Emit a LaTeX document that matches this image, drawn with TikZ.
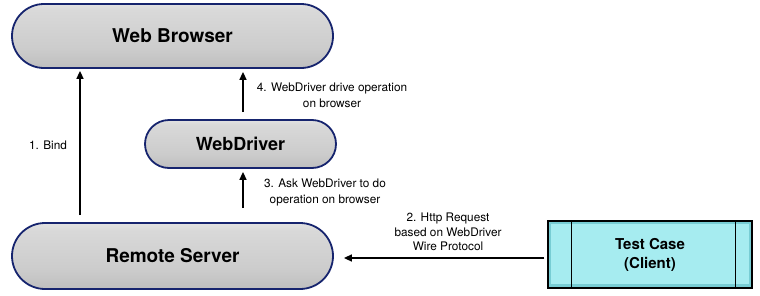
\documentclass[tikz,border=0pt]{standalone}
\usepackage{fontspec}
\setmainfont{TeX Gyre Heros}
\usetikzlibrary{arrows.meta,calc}
\definecolor{pillborder}{RGB}{22,36,110}
\definecolor{tccyan}{RGB}{166,236,240}
\definecolor{tcdark}{RGB}{120,205,212}
\pgfdeclareverticalshading{pillshade}{100bp}{color(0bp)=(black!45); color(12bp)=(black!30); color(40bp)=(black!20); color(70bp)=(black!15); color(86bp)=(black!3); color(94bp)=(black!8); color(100bp)=(black!35)}
\tikzset{
  pill/.style={rectangle, rounded corners=#1, shading=pillshade, draw=pillborder, line width=1.8pt, font=\bfseries},
  tcbox/.style={rectangle, fill=tcdark, draw=black, line width=1.5pt, align=center, font=\bfseries\fontsize{15}{19}\selectfont},
  arr/.style={-{Triangle[length=8pt,width=7pt]}, line width=1.6pt},
  lbl/.style={align=center, font=\fontsize{11.8}{16}\selectfont}
}
\begin{document}
\begin{tikzpicture}[x=1pt,y=-1pt]
\useasboundingbox (0,0) rectangle (760,295);
\node[pill=32pt, minimum width=321pt, minimum height=64pt, font=\bfseries\fontsize{19}{22}\selectfont] (wb) at (172.5,36) {Web Browser};
\node[pill=24pt, minimum width=191pt, minimum height=48pt, font=\bfseries\fontsize{18}{22}\selectfont] (wd) at (240.5,144) {WebDriver};
\node[pill=33pt, minimum width=321pt, minimum height=66pt, font=\bfseries\fontsize{19}{22}\selectfont] (rs) at (172.5,256) {Remote Server};
\node[tcbox, minimum width=204pt, minimum height=67pt] (tc) at (650,254.5) {};
\fill[tccyan] ([shift={(4pt,-4pt)}]tc.north west) rectangle ([shift={(-4pt,5pt)}]tc.south east);
\node[align=center, font=\bfseries\fontsize{15}{19}\selectfont] (tct) at (tc.center) {Test Case\\(Client)};
\draw[line width=1.2pt] ([xshift=24pt]tc.north west) -- ([xshift=24pt]tc.south west);
\draw[line width=1.2pt] ([xshift=-17pt]tc.north east) -- ([xshift=-17pt]tc.south east);
\coordinate (bx) at (80,0);
\coordinate (dx) at (243,0);
\draw[arr] ([yshift=7pt]rs.north -| bx) -- ([yshift=-2pt]wb.south -| bx);
\draw[arr] ([yshift=7pt]wd.north -| dx) -- ([yshift=-3pt]wb.south -| dx);
\draw[arr] ([yshift=14pt]rs.north -| dx) -- ([yshift=-3pt]wd.south -| dx);
\draw[arr] ([xshift=-3pt,yshift=-2pt]rs.east -| tc.west) -- ([xshift=10pt,yshift=-2pt]rs.east);
\node[lbl] (l1) at (48,145) {1. Bind};
\node[lbl] (l4) at (332,95) {4. WebDriver drive operation\\on browser};
\node[lbl] (l3) at (325,192) {3. Ask WebDriver to do\\operation on browser};
\node[lbl, font=\fontsize{11.8}{14.5}\selectfont] (l2) at (448,232) {2. Http Request\\based on WebDriver\\Wire Protocol};
\end{tikzpicture}
\end{document}
